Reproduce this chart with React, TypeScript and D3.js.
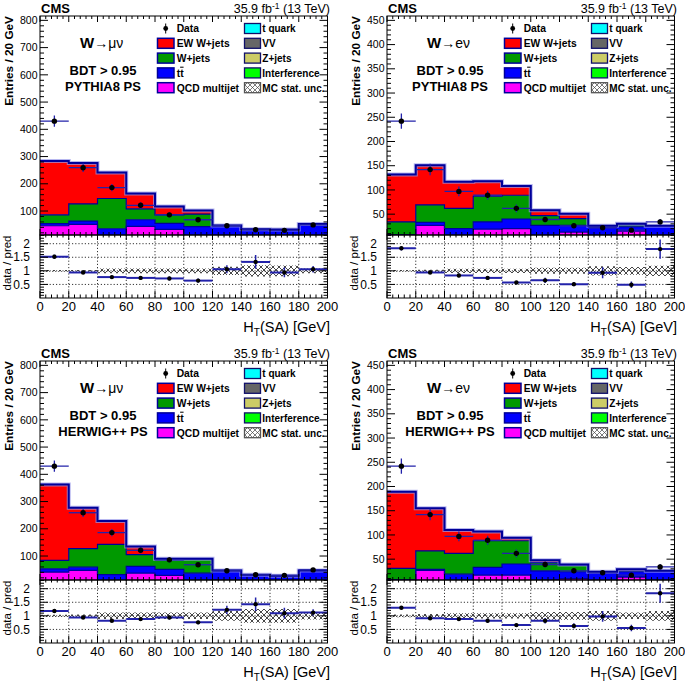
import React from "react";
import * as d3 from "d3";

// ---------- data ----------
const binEdges = [0, 20, 40, 60, 80, 100, 120, 140, 160, 180, 200];
const xTickValues = [0, 20, 40, 60, 80, 100, 120, 140, 160, 180, 200];
const yTicksMu = [100, 200, 300, 400, 500, 600, 700, 800];
const yTicksE = [50, 100, 150, 200, 250, 300, 350, 400, 450];
const ratioTickValues = [0.5, 1, 1.5, 2];
const ratioTickLabels = ["0.5", "1", "1.5", "2"];

const dataMu = [430, 259, 186, 121, 86, 68, 46, 31, 29, 49];
const dataE = [242, 142, 97, 89, 62, 39, 26, 22, 17, 34];

// small backgrounds (mostly below the axis floor)
const tqMu = [5, 5, 4, 5, 5, 5, 5, 4, 4, 5];
const vvMu = [2, 2, 3, 2, 2, 2, 2, 3, 3, 2];
const zjMu = [2, 2, 2, 2, 2, 2, 2, 2, 2, 2];
const intMu = [1, 1, 1, 1, 1, 1, 1, 1, 1, 1];
const tqE = [3, 3, 3, 3, 3, 3, 3, 3, 3, 3];
const vvE = [1, 1, 1, 1, 1, 1, 1, 1, 1, 1];
const zjE = [1, 1, 1, 1, 1, 1, 1, 1, 1, 1];
const intE = [1, 1, 1, 1, 1, 1, 1, 1, 1, 1];

// W -> mu nu, PYTHIA8
const qcdMuPy = [36, 41, 0, 34, 23, 0, 0, 0, 0, 0];
const ttMuPy = [8, 12, 25, 24, 22, 33, 35, 23, 22, 42];
const wjMuPy = [32, 63, 111, 40, 31, 46, 2, 0, 0, 0];
const ewMuPy = [198, 150, 95, 56, 31, 13, 0, 0, 0, 0];
const ratioMuPy = [1.52, 0.94, 0.77, 0.74, 0.72, 0.64, 1.06, 1.33, 0.94, 1.06];
const ratioErrMuPy = [0.07, 0.06, 0.06, 0.06, 0.07, 0.08, 0.15, 0.25, 0.18, 0.12];
const uncMuPy = [0.03, 0.03, 0.09, 0.09, 0.09, 0.09, 0.15, 0.21, 0.2, 0.09];

// W -> e nu, PYTHIA8
const qcdEPy = [0, 21, 0, 13, 14, 0, 7, 0, 9, 0];
const ttEPy = [2, 6, 14, 15, 20, 21, 14, 20, 9, 20];
const wjEPy = [26, 36, 42, 53, 49, 20, 14, 0, 4, 0];
const ewEPy = [98, 82, 55, 31, 19, 11, 10, 0, 2, 0];
const ratioEPy = [1.83, 0.94, 0.83, 0.74, 0.57, 0.65, 0.51, 0.93, 0.49, 1.8];
const ratioErrEPy = [0.08, 0.06, 0.07, 0.06, 0.06, 0.1, 0.08, 0.2, 0.12, 0.35];
const uncEPy = [0.03, 0.04, 0.08, 0.08, 0.08, 0.11, 0.11, 0.17, 0.14, 0.19];

// W -> mu nu, HERWIG++
const qcdMuHw = [31, 37, 0, 27, 19, 0, 0, 0, 0, 0];
const ttMuHw = [12, 12, 22, 25, 22, 27, 37, 21, 18, 37];
const wjMuHw = [31, 68, 111, 43, 35, 51, 0, 0, 0, 0];
const ewMuHw = [279, 150, 86, 30, 4, 2, 0, 0, 0, 0];
const ratioMuHw = [1.18, 0.94, 0.82, 0.88, 0.94, 0.76, 1.22, 1.43, 1.1, 1.12];
const ratioErrMuHw = [0.05, 0.05, 0.05, 0.06, 0.07, 0.07, 0.15, 0.25, 0.2, 0.12];
const uncMuHw = [0.04, 0.05, 0.12, 0.12, 0.12, 0.12, 0.18, 0.25, 0.25, 0.13];

// W -> e nu, HERWIG++
const qcdEHw = [0, 21, 0, 11, 11, 0, 4, 0, 7, 0];
const ttEHw = [2, 2, 13, 16, 23, 20, 14, 18, 11, 20];
const wjEHw = [23, 38, 43, 55, 48, 17, 13, 0, 2, 0];
const ewEHw = [158, 88, 48, 19, 6, 5, 2, 0, 3, 0];
const ratioEHw = [1.3, 0.91, 0.88, 0.82, 0.66, 0.82, 0.63, 0.98, 0.55, 1.83];
const ratioErrEHw = [0.06, 0.06, 0.06, 0.07, 0.06, 0.1, 0.1, 0.2, 0.12, 0.35];
const uncEHw = [0.05, 0.07, 0.1, 0.1, 0.1, 0.14, 0.14, 0.18, 0.12, 0.18];

const legendCol1 = ["Data", "EW W+jets", "W+jets", "tt", "QCD multijet"];
const legendCol2 = ["t quark", "VV", "Z+jets", "Interference", "MC stat. unc."];

// ---------- style ----------
const FONT = "'Liberation Sans', Arial, Helvetica, sans-serif";
const NAVY = "#000099";
const ERR = "#2222aa";
const stackKeys = ["int", "zj", "vv", "tq", "qcd", "tt", "wj", "ew"];
const fills: Record<string, string> = {
  ew: "#ff0000", wj: "#009900", tt: "#0000ff", qcd: "#ff00ff",
  tq: "#00ffff", vv: "#666666", zj: "#cccc66", int: "#00ff00",
};
const legendFills1 = [null, fills.ew, fills.wj, fills.tt, fills.qcd];
const legendFills2 = [fills.tq, fills.vv, fills.zj, fills.int, "hatch"];

type Cfg = {
  id: string; ox: number; oy: number; chan: "mu" | "e"; ps: string;
  data: number[]; comps: Record<string, number[]>;
  ratio: number[]; ratioErr: number[]; unc: number[];
  yMin: number; yMax: number; yTicks: number[]; yMinor: number;
};

const panels: Cfg[] = [
  { id: "p1", ox: 0, oy: 0, chan: "mu", ps: "PYTHIA8 PS", data: dataMu,
    comps: { int: intMu, zj: zjMu, vv: vvMu, tq: tqMu, qcd: qcdMuPy, tt: ttMuPy, wj: wjMuPy, ew: ewMuPy },
    ratio: ratioMuPy, ratioErr: ratioErrMuPy, unc: uncMuPy, yMin: 12, yMax: 816, yTicks: yTicksMu, yMinor: 20 },
  { id: "p2", ox: 347, oy: 0, chan: "e", ps: "PYTHIA8 PS", data: dataE,
    comps: { int: intE, zj: zjE, vv: vvE, tq: tqE, qcd: qcdEPy, tt: ttEPy, wj: wjEPy, ew: ewEPy },
    ratio: ratioEPy, ratioErr: ratioErrEPy, unc: uncEPy, yMin: 7, yMax: 459, yTicks: yTicksE, yMinor: 10 },
  { id: "p3", ox: 0, oy: 345, chan: "mu", ps: "HERWIG++ PS", data: dataMu,
    comps: { int: intMu, zj: zjMu, vv: vvMu, tq: tqMu, qcd: qcdMuHw, tt: ttMuHw, wj: wjMuHw, ew: ewMuHw },
    ratio: ratioMuHw, ratioErr: ratioErrMuHw, unc: uncMuHw, yMin: 12, yMax: 816, yTicks: yTicksMu, yMinor: 20 },
  { id: "p4", ox: 347, oy: 345, chan: "e", ps: "HERWIG++ PS", data: dataE,
    comps: { int: intE, zj: zjE, vv: vvE, tq: tqE, qcd: qcdEHw, tt: ttEHw, wj: wjEHw, ew: ewEHw },
    ratio: ratioEHw, ratioErr: ratioErrEHw, unc: uncEHw, yMin: 7, yMax: 459, yTicks: yTicksE, yMinor: 10 },
];

const L = 40, R = 327.5, T = 16, MB = 235, RB = 298;

type P = { x: number; y0: number; y1: number };
function stepPts(lower: number[], upper: number[]): P[] {
  const pts: P[] = [];
  lower.forEach((lo, i) => {
    pts.push({ x: binEdges[i], y0: lo, y1: upper[i] });
    pts.push({ x: binEdges[i + 1], y0: lo, y1: upper[i] });
  });
  return pts;
}

function Panel({ cfg }: { cfg: Cfg }) {
  const x = d3.scaleLinear().domain([0, 200]).range([L, R]);
  const y = d3.scaleLinear().domain([cfg.yMin, cfg.yMax]).range([MB, T]);
  const yr = d3.scaleLinear().domain([0, 2.32]).range([RB, MB]);

  const rows = binEdges.slice(0, -1).map((_, i) => {
    const r: Record<string, number> = {};
    stackKeys.forEach((k) => (r[k] = cfg.comps[k][i]));
    return r;
  });
  const series = d3.stack<Record<string, number>>().keys(stackKeys)(rows);
  const total = series[series.length - 1].map((d) => d[1]);

  const areaMain = d3.area<P>().x((d) => x(d.x)).y0((d) => y(d.y0)).y1((d) => y(d.y1));
  const lineMain = d3.line<P>().x((d) => x(d.x)).y((d) => y(d.y1));
  const areaRatio = d3.area<P>().x((d) => x(d.x)).y0((d) => yr(d.y0)).y1((d) => yr(d.y1));

  const ratioHatch = stepPts(cfg.unc.map((u) => 1 - u), cfg.unc.map((u) => 1 + u));

  const xMinor = d3.range(0, 200.01, 4).filter((v) => v % 20 !== 0);
  const yMinor = d3.range(Math.ceil(cfg.yMin / cfg.yMinor) * cfg.yMinor, cfg.yMax, cfg.yMinor)
    .filter((v) => !cfg.yTicks.includes(v));
  const rMinor = d3.range(0.1, 2.32, 0.1).filter((v) => Math.abs(v * 2 - Math.round(v * 2)) > 0.01);
  const centers = binEdges.slice(0, -1).map((e, i) => (e + binEdges[i + 1]) / 2);

  const tick = (x1: number, y1: number, x2: number, y2: number, k: string) => (
    <line key={k} x1={x1} y1={y1} x2={x2} y2={y2} stroke="#000" strokeWidth={1} />
  );

  const rowY = (i: number) => 28.5 + i * 14.8;

  return (
    <g transform={`translate(${cfg.ox},${cfg.oy})`} fontFamily={FONT}>
      <defs>
        <clipPath id={`clipMain-${cfg.id}`}>
          <rect x={L} y={T} width={R - L} height={MB - T} />
        </clipPath>
        <clipPath id={`clipRatio-${cfg.id}`}>
          <rect x={L} y={MB} width={R - L} height={RB - MB} />
        </clipPath>
      </defs>

      {/* main stack */}
      <g clipPath={`url(#clipMain-${cfg.id})`}>
        {series.map((s) => {
          const pts = stepPts(s.map((d) => d[0]), s.map((d) => d[1]));
          return <path key={s.key} d={areaMain(pts) || ""} fill={fills[s.key]} />;
        })}
        {series.map((s) => {
          const pts = stepPts(s.map((d) => d[0]), s.map((d) => d[1]));
          return <path key={"l" + s.key} d={lineMain(pts) || ""} fill="none" stroke={NAVY} strokeWidth={1.2} />;
        })}
        <path d={lineMain(stepPts(total, total)) || ""} fill="none" stroke="#9a9aea" strokeWidth={4} opacity={0.7} />
        <path d={lineMain(stepPts(total, total)) || ""} fill="none" stroke={NAVY} strokeWidth={2} />
        {/* data */}
        {cfg.data.map((v, i) => (
          <g key={"d" + i}>
            <line x1={x(binEdges[i])} x2={x(binEdges[i + 1])} y1={y(v)} y2={y(v)} stroke={ERR} strokeWidth={1.3} />
            <line x1={x(centers[i])} x2={x(centers[i])} y1={y(v - Math.sqrt(v))} y2={y(v + Math.sqrt(v))} stroke={ERR} strokeWidth={1.3} />
            <circle cx={x(centers[i])} cy={y(v)} r={2.7} fill="#000" />
          </g>
        ))}
      </g>

      {/* ratio */}
      <g clipPath={`url(#clipRatio-${cfg.id})`}>
        {xTickValues.slice(1, -1).map((v) => (
          <line key={"gx" + v} x1={x(v)} x2={x(v)} y1={MB} y2={RB} stroke="#000" strokeWidth={0.8} strokeDasharray="1.2,2" />
        ))}
        {ratioTickValues.map((v) => (
          <line key={"gy" + v} x1={L} x2={R} y1={yr(v)} y2={yr(v)} stroke="#000" strokeWidth={0.8} strokeDasharray="1.2,2" />
        ))}
        <path d={areaRatio(ratioHatch) || ""} fill="url(#hatch)" />
        {cfg.ratio.map((v, i) => (
          <g key={"r" + i}>
            <line x1={x(binEdges[i])} x2={x(binEdges[i + 1])} y1={yr(v)} y2={yr(v)} stroke={ERR} strokeWidth={2} />
            <line x1={x(centers[i])} x2={x(centers[i])} y1={yr(v - cfg.ratioErr[i])} y2={yr(v + cfg.ratioErr[i])} stroke={ERR} strokeWidth={1.5} />
            <circle cx={x(centers[i])} cy={yr(v)} r={2.2} fill="#000" />
          </g>
        ))}
      </g>

      {/* frames */}
      <rect x={L} y={T} width={R - L} height={MB - T} fill="none" stroke="#000" strokeWidth={1} />
      <rect x={L} y={MB} width={R - L} height={RB - MB} fill="none" stroke="#000" strokeWidth={1} />

      {/* ticks */}
      {cfg.yTicks.map((v) => [tick(L, y(v), L + 8, y(v), "yl" + v), tick(R, y(v), R - 8, y(v), "yr" + v)])}
      {yMinor.map((v) => [tick(L, y(v), L + 4, y(v), "yml" + v), tick(R, y(v), R - 4, y(v), "ymr" + v)])}
      {xTickValues.map((v) => [tick(x(v), T, x(v), T + 6, "xt" + v), tick(x(v), MB, x(v), MB - 6, "xb" + v),
        tick(x(v), RB, x(v), RB - 7, "xr" + v), tick(x(v), MB, x(v), MB + 5, "xrt" + v)])}
      {xMinor.map((v) => [tick(x(v), T, x(v), T + 3, "xmt" + v), tick(x(v), MB, x(v), MB - 3, "xmb" + v),
        tick(x(v), RB, x(v), RB - 3.5, "xmr" + v), tick(x(v), MB, x(v), MB + 2.5, "xmrt" + v)])}
      {ratioTickValues.map((v) => [tick(L, yr(v), L + 8, yr(v), "rl" + v), tick(R, yr(v), R - 8, yr(v), "rr" + v)])}
      {rMinor.map((v, i) => [tick(L, yr(v), L + 4, yr(v), "rml" + i), tick(R, yr(v), R - 4, yr(v), "rmr" + i)])}

      {/* tick labels */}
      {cfg.yTicks.map((v) => (
        <text key={"yt" + v} x={37.5} y={y(v)} dy="0.35em" fontSize={10.5} textAnchor="end">{v}</text>
      ))}
      {ratioTickValues.map((v, i) => (
        <text key={"rt" + v} x={30} y={yr(v)} dy="0.35em" fontSize={12} textAnchor="end">{ratioTickLabels[i]}</text>
      ))}
      {xTickValues.map((v) => (
        <text key={"xl" + v} x={x(v)} y={311} fontSize={13} textAnchor="middle">{v}</text>
      ))}

      {/* axis titles */}
      <text transform="translate(12.5,16) rotate(-90)" fontSize={11.8} fontWeight="bold" textAnchor="end">Entries / 20 GeV</text>
      <text transform="translate(11,263) rotate(-90)" fontSize={11.5} textAnchor="middle">data / pred</text>
      <text x={330} y={332} fontSize={14.5} textAnchor="end">
        H<tspan fontSize={10} dy={3.5}>T</tspan><tspan dy={-3.5}>(SA) [GeV]</tspan>
      </text>

      {/* header */}
      <text x={41} y={13.3} fontSize={13} fontWeight="bold">CMS</text>
      <text x={330} y={13.3} fontSize={12.5} textAnchor="end">
        35.9 fb<tspan fontSize={8.5} dy={-4.5}>-1</tspan><tspan dy={4.5}> (13 TeV)</tspan>
      </text>

      {/* channel labels */}
      <text x={80} y={47.5}>
        <tspan fontSize={15} fontWeight="bold">W</tspan>
        <tspan fontSize={14}>{cfg.chan === "mu" ? "→μν" : "→eν"}</tspan>
      </text>
      <text x={103} y={75} fontSize={13} fontWeight="bold" textAnchor="middle">BDT &gt; 0.95</text>
      <text x={103} y={90.5} fontSize={13} fontWeight="bold" textAnchor="middle">{cfg.ps}</text>

      {/* legend */}
      {legendCol1.map((lab, i) => (
        <g key={"lg1" + i}>
          {legendFills1[i] ? (
            <rect x={157.5} y={rowY(i) - 5} width={16.5} height={10} fill={legendFills1[i] as string} stroke={NAVY} strokeWidth={1.5} />
          ) : (
            <g>
              <line x1={165.7} x2={165.7} y1={rowY(i) - 5} y2={rowY(i) + 5} stroke="#000" strokeWidth={1} />
              <circle cx={165.7} cy={rowY(i)} r={2.4} fill="#000" />
            </g>
          )}
          <text x={176.7} y={rowY(i) + 3.8} fontSize={10.3} fontWeight="bold">
            {lab === "tt" ? (<>t<tspan textDecoration="overline" style={{ textDecoration: "overline" }}>t</tspan></>) : lab}
          </text>
        </g>
      ))}
      {legendCol2.map((lab, i) => (
        <g key={"lg2" + i}>
          <rect x={244.5} y={rowY(i) - 5} width={16} height={10}
            fill={legendFills2[i] === "hatch" ? "url(#hatchLeg)" : (legendFills2[i] as string)}
            stroke={legendFills2[i] === "hatch" ? "#555" : "#10106a"} strokeWidth={1.3} />
          <text x={262.3} y={rowY(i) + 3.8} fontSize={10} fontWeight="bold">{lab}</text>
        </g>
      ))}
    </g>
  );
}

export default function App() {
  return (
    <svg width={685} height={685} viewBox="0 0 685 685"
      style={{ position: "absolute", left: 0, top: 0, background: "#fff" }}>
      <defs>
        <pattern id="hatch" patternUnits="userSpaceOnUse" width={6} height={6}>
          <path d="M0,0 L6,6 M6,0 L0,6" stroke="#333" strokeWidth={0.9} fill="none" />
        </pattern>
        <pattern id="hatchLeg" patternUnits="userSpaceOnUse" width={5} height={5}>
          <rect width={5} height={5} fill="#fff" />
          <path d="M0,0 L5,5 M5,0 L0,5" stroke="#444" strokeWidth={0.7} fill="none" />
        </pattern>
      </defs>
      <rect x={0} y={0} width={685} height={685} fill="#fff" />
      {panels.map((p) => (
        <Panel key={p.id} cfg={p} />
      ))}
    </svg>
  );
}
